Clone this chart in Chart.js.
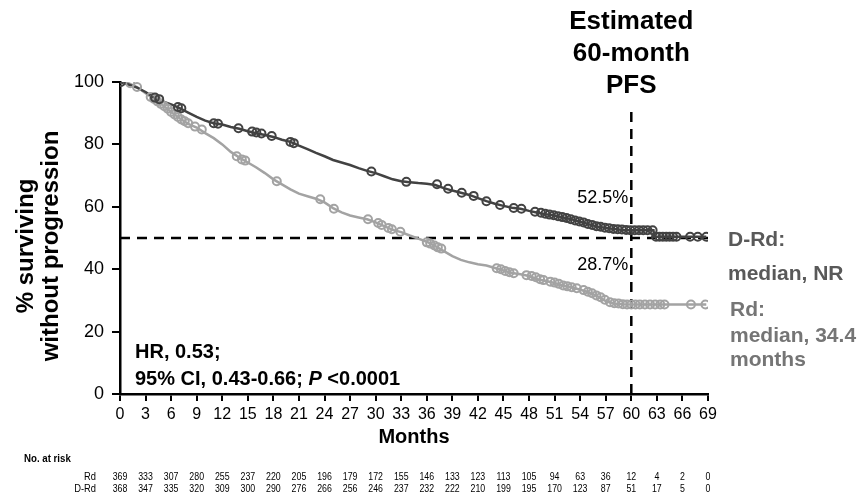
<!DOCTYPE html>
<html>
<head>
<meta charset="utf-8">
<script src="https://cdn.jsdelivr.net/npm/chart.js@4"></script>
<style>
  html, body { margin: 0; padding: 0; background: #fff; }
  #wrap { width: 862px; height: 493px; position: relative; }
</style>
</head>
<body>
<div id="wrap"><canvas id="km"></canvas></div>
<script>
// PFS curves (months, % surviving without progression)
const drdTimes = [0, 1, 2, 3, 4, 5, 6, 7, 8, 9, 10, 11, 12, 13, 14, 15, 16, 17, 18, 19, 20, 21, 22, 23, 24, 25, 26, 27, 28, 29, 30,
  31, 32, 33, 34, 35, 36, 37, 38, 39, 40, 41, 42, 43, 44, 45, 46, 47, 48, 49, 50, 51, 52, 53, 54, 55, 56, 57, 58, 59, 60, 62.6, 62.7, 68.8];
const drdSurv = [100, 99.2, 98.2, 96.8, 95, 93.8, 92.8, 91.6, 90.2, 88.8, 87.6, 86.8, 86.4, 85.6, 85.0, 84.2, 83.6, 83.0, 82.4, 81.5, 80.8,
  79.6, 78.5, 77.3, 76.2, 75.0, 74.2, 73.4, 72.4, 71.5, 70.8, 69.8, 68.8, 68.2, 67.9, 67.6, 67.4, 67.0, 66.0, 65.2, 64.5, 63.8, 62.8,
  61.8, 61.0, 60.3, 59.7, 59.4, 58.7, 58.1, 57.6, 57.2, 56.6, 56.0, 55.2, 54.4, 53.7, 53.2, 52.9, 52.6, 52.5, 52.5, 50.4, 50.4];

const rdTimes = [0, 1, 2, 3, 4, 5, 6, 7, 8, 9, 10, 11, 12, 13, 14, 15, 16, 17, 18, 19, 20, 21, 22, 23, 24, 25, 26, 27, 28, 29, 30,
  31, 32, 33, 34, 35, 36, 37, 38, 39, 40, 41, 42, 43, 44, 45, 46, 47, 48, 49, 50, 51, 52, 53, 54, 55, 56, 57, 58, 59, 60, 68.8];
const rdSurv = [100, 99.6, 98.4, 96.4, 94.6, 92.6, 90.4, 88.4, 86.6, 85.4, 83.6, 82.0, 80.0, 77.6, 75.8, 74.2, 72.6, 70.8, 68.8, 67.2,
  65.6, 64.2, 63.4, 62.6, 61.4, 59.6, 58.2, 57.2, 56.6, 56.0, 55.0, 53.8, 52.6, 51.9, 50.8, 49.8, 48.8, 47.4, 45.8, 44.2, 43.0, 42.2,
  41.6, 41.2, 40.4, 39.6, 38.8, 38.4, 37.8, 36.8, 36.2, 35.6, 34.8, 34.2, 33.4, 32.6, 31.4, 29.8, 29.0, 28.8, 28.7, 28.7];

// censored observations
const drdCensorT = [0.1, 4.1, 4.6, 6.8, 7.2, 11.0, 11.5, 13.9, 15.5, 16.0, 16.6, 17.8, 20.0, 20.4, 29.5, 33.6, 37.2, 38.5, 40.1, 41.5,
  43.0, 44.6, 46.2, 47.1, 48.7, 49.4, 49.9, 50.4, 50.9, 51.4, 51.9, 52.4, 52.9, 53.4, 53.9, 54.4, 54.9, 55.4, 55.9, 56.4, 56.9, 57.4,
  57.9, 58.4, 58.9, 59.4, 59.9, 60.4, 60.9, 61.4, 61.9, 62.5, 62.9, 63.3, 63.7, 64.1, 64.5, 64.9, 65.3, 66.9, 67.8, 68.8];
const drdCensorS = [100, 95, 94.5, 92, 91.6, 86.8, 86.6, 85.2, 84.1, 83.8, 83.5, 82.7, 80.8, 80.4, 71.3, 68.0, 67.2, 65.8, 64.5, 63.5,
  61.8, 60.6, 59.6, 59.4, 58.4, 58.1, 57.8, 57.5, 57.3, 57.0, 56.7, 56.4, 56.0, 55.6, 55.3, 55.0, 54.5, 54.2, 53.8, 53.6, 53.3, 53.1,
  52.9, 52.8, 52.7, 52.6, 52.5, 52.5, 52.5, 52.5, 52.5, 52.5, 50.4, 50.4, 50.4, 50.4, 50.4, 50.4, 50.4, 50.4, 50.4, 50.4];

const rdCensorT = [0.1, 1.2, 2.0, 3.6, 4.0, 4.4, 4.8, 5.2, 5.6, 6.0, 6.4, 6.8, 7.2, 7.6, 8.0, 8.8, 9.6, 13.7, 14.3, 14.7, 18.4, 23.5,
  25.1, 29.1, 30.3, 30.7, 31.5, 31.9, 32.9, 36.0, 36.4, 36.9, 37.3, 37.7, 44.2, 44.7, 45.2, 45.7, 46.2, 47.7, 48.3, 48.8, 49.3, 49.7,
  50.5, 51.0, 51.5, 52.0, 52.5, 53.0, 53.6, 54.4, 54.9, 55.4, 55.9, 56.4, 56.9, 57.5, 58.0, 58.5, 59.0, 59.5, 60.0, 60.5, 61.0, 61.6,
  62.2, 62.8, 63.4, 63.9, 67.0, 68.7];
const rdCensorS = [100, 99.6, 98.4, 95.2, 94.6, 93.8, 93.0, 92.2, 91.4, 90.4, 89.6, 88.8, 88.0, 87.4, 86.8, 85.7, 84.8, 76.2, 75.2, 74.8,
  68.2, 62.4, 59.4, 56.0, 54.8, 54.2, 53.2, 52.8, 52.0, 48.6, 48.2, 47.6, 47.0, 46.6, 40.3, 40.0, 39.4, 39.0, 38.7, 38.1, 37.8, 37.4,
  36.8, 36.5, 36.0, 35.7, 35.3, 34.8, 34.5, 34.2, 33.9, 33.3, 32.8, 32.3, 31.6, 31.0, 30.2, 29.4, 29.1, 29.0, 28.8, 28.7, 28.7, 28.7,
  28.7, 28.7, 28.7, 28.7, 28.7, 28.7, 28.7, 28.7];

// number at risk, every 3 months from 0 to 69
const riskMonths = [0, 3, 6, 9, 12, 15, 18, 21, 24, 27, 30, 33, 36, 39, 42, 45, 48, 51, 54, 57, 60, 63, 66, 69];
const rdRisk = [369, 333, 307, 280, 255, 237, 220, 205, 196, 179, 172, 155, 146, 133, 123, 113, 105, 94, 63, 36, 12, 4, 2, 0];
const drdRisk = [368, 347, 335, 320, 309, 300, 290, 276, 266, 256, 246, 237, 232, 222, 210, 199, 195, 170, 123, 87, 51, 17, 5, 0];

const DARK = '#424242';
const LIGHT = '#a3a3a3';
const FONT = "'Liberation Sans', Arial, sans-serif";

function pts(xs, ys) {
  return xs.map((x, i) => ({ x: x, y: ys[i] }));
}

Chart.defaults.font.family = FONT;
Chart.defaults.color = '#000';

// dashed reference lines at 50% and 60 months
const refLines = {
  id: 'refLines',
  beforeDatasetsDraw(chart) {
    const { ctx, scales: { x, y } } = chart;
    ctx.save();
    ctx.strokeStyle = '#000';
    ctx.lineWidth = 2.5;
    ctx.setLineDash([10, 7]);
    ctx.beginPath();
    ctx.moveTo(x.getPixelForValue(0), y.getPixelForValue(50));
    ctx.lineTo(x.getPixelForValue(69), y.getPixelForValue(50));
    ctx.moveTo(x.getPixelForValue(60), y.getPixelForValue(0));
    ctx.lineTo(x.getPixelForValue(60), y.getPixelForValue(92));
    ctx.stroke();
    ctx.restore();
  }
};

function narrowText(ctx, s, x, y, sx) {
  ctx.save();
  ctx.translate(x, y);
  ctx.scale(sx, 1);
  ctx.fillText(s, 0, 0);
  ctx.restore();
}

// labels, notes and the number-at-risk table
const notes = {
  id: 'notes',
  afterDraw(chart) {
    const { ctx, scales: { x } } = chart;
    ctx.save();
    ctx.textBaseline = 'middle';

    // y axis title, two rotated lines
    ctx.fillStyle = '#000';
    ctx.textAlign = 'center';
    ctx.font = 'bold 24px ' + FONT;
    [['% surviving', 26], ['without progression', 51]].forEach(([s, cx]) => {
      ctx.save();
      ctx.translate(cx, 246);
      ctx.rotate(-Math.PI / 2);
      ctx.fillText(s, 0, 0);
      ctx.restore();
    });

    // heading over the 60-month line
    const x60 = x.getPixelForValue(60);
    ctx.font = 'bold 26px ' + FONT;
    ctx.fillText('Estimated', x60, 22);
    ctx.fillText('60-month', x60, 54);
    ctx.fillText('PFS', x60, 86);

    ctx.textAlign = 'right';
    ctx.font = '18px ' + FONT;
    ctx.fillText('52.5%', x60 - 3, 198);
    ctx.fillText('28.7%', x60 - 3, 265);

    // curve labels
    ctx.textAlign = 'left';
    ctx.font = 'bold 21px ' + FONT;
    ctx.fillStyle = '#595959';
    ctx.fillText('D-Rd:', 728, 240);
    ctx.fillText('median, NR', 728, 274);
    ctx.fillStyle = '#757575';
    ctx.fillText('Rd:', 730, 310);
    ctx.fillText('median, 34.4', 730, 336);
    ctx.fillText('months', 730, 360);

    // hazard ratio
    ctx.fillStyle = '#000';
    ctx.font = 'bold 20px ' + FONT;
    ctx.fillText('HR, 0.53;', 135, 352);
    let tx = 135;
    const parts = [['95% CI, 0.43-0.66; ', 'bold 20px '], ['P', 'italic bold 20px '], [' <0.0001', 'bold 20px ']];
    parts.forEach(([s, f]) => {
      ctx.font = f + FONT;
      ctx.fillText(s, tx, 379);
      tx += ctx.measureText(s).width;
    });

    // number at risk
    ctx.font = 'bold 11px ' + FONT;
    ctx.textAlign = 'left';
    narrowText(ctx, 'No. at risk', 24, 459, 0.88);
    ctx.font = '11px ' + FONT;
    ctx.textAlign = 'right';
    narrowText(ctx, 'Rd', 96, 477, 0.85);
    narrowText(ctx, 'D-Rd', 96, 489, 0.85);
    ctx.textAlign = 'center';
    riskMonths.forEach((m, i) => {
      const px = x.getPixelForValue(m);
      narrowText(ctx, String(rdRisk[i]), px, 477, 0.8);
      narrowText(ctx, String(drdRisk[i]), px, 489, 0.8);
    });
    ctx.restore();
  }
};

new Chart(document.getElementById('km'), {
  type: 'line',
  data: {
    datasets: [
      {
        label: 'D-Rd censored',
        data: pts(drdCensorT, drdCensorS),
        showLine: false,
        pointStyle: 'circle',
        pointRadius: 4,
        pointBorderWidth: 2,
        pointBorderColor: DARK,
        pointBackgroundColor: 'rgba(255,255,255,0)',
        order: 1
      },
      {
        label: 'Rd censored',
        data: pts(rdCensorT, rdCensorS),
        showLine: false,
        pointStyle: 'circle',
        pointRadius: 4,
        pointBorderWidth: 2,
        pointBorderColor: LIGHT,
        pointBackgroundColor: 'rgba(255,255,255,0)',
        order: 2
      },
      {
        label: 'D-Rd',
        data: pts(drdTimes, drdSurv),
        borderColor: DARK,
        borderWidth: 2.5,
        pointRadius: 0,
        tension: 0,
        order: 3
      },
      {
        label: 'Rd',
        data: pts(rdTimes, rdSurv),
        borderColor: LIGHT,
        borderWidth: 2.5,
        pointRadius: 0,
        tension: 0,
        order: 4
      }
    ]
  },
  options: {
    responsive: true,
    maintainAspectRatio: false,
    animation: false,
    events: [],
    layout: { padding: { left: 0, top: 82, right: 154, bottom: 0 } },
    plugins: {
      legend: { display: false },
      tooltip: { enabled: false }
    },
    scales: {
      x: {
        type: 'linear',
        min: 0,
        max: 69,
        afterFit(scale) { scale.height = 99; },
        ticks: { stepSize: 3, autoSkip: false, maxRotation: 0, padding: 4, color: '#000', font: { size: 16 } },
        grid: { drawOnChartArea: false, tickLength: 7, color: '#000', lineWidth: 2 },
        border: { color: '#000', width: 2.5 },
        title: { display: true, text: 'Months', color: '#000', font: { size: 20, weight: 'bold' }, padding: { top: 0, bottom: 44 } }
      },
      y: {
        min: 0,
        max: 100,
        afterFit(scale) { scale.width = 120; },
        ticks: { stepSize: 20, padding: 8, color: '#000', font: { size: 18 } },
        grid: { drawOnChartArea: false, tickLength: 8, color: '#000', lineWidth: 2 },
        border: { color: '#000', width: 2.5 }
      }
    }
  },
  plugins: [refLines, notes]
});
</script>
</body>
</html>
